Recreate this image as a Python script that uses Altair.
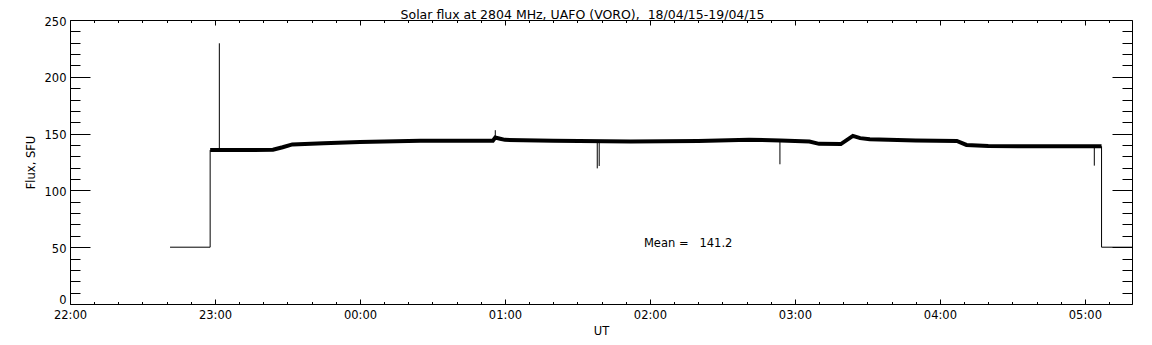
import altair as alt
import pandas as pd

# ---------------- data ----------------
# noisy main flux trace (UT times, SFU)
main_t = ["22:58:00", "23:10:00", "23:24:00", "23:28:00", "23:32:00", "23:45:00",
          "00:00:00", "00:25:00", "00:55:00", "00:56:00", "00:58:00", "01:00:00",
          "01:20:00", "01:52:00", "02:20:00", "02:41:00", "02:54:00", "03:06:00",
          "03:10:00", "03:19:00", "03:24:00", "03:27:00", "03:31:00", "03:50:00",
          "04:07:00", "04:11:00", "04:20:00", "05:06:54"]
main_v = [135.5, 135.5, 135.8, 138.0, 140.5, 141.5,
          142.5, 143.8, 143.8, 146.5, 145.5, 144.5,
          143.8, 143.0, 143.5, 144.5, 144.0, 143.0,
          141.0, 140.8, 148.0, 146.0, 145.0, 144.0,
          143.5, 140.0, 139.0, 138.8]

# calibration steps before / after the observation
step_seg = [0, 0, 0, 1, 1, 1]
step_t = ["22:41:24", "22:58:00", "22:58:00", "05:06:54", "05:06:54", "05:19:30"]
step_v = [50, 50, 135.5, 138.8, 50, 50]

# thin spikes
spike_t = ["23:01:48", "00:56:00", "01:38:12", "01:39:00", "02:53:48", "05:03:54"]
spike_base = [135.5, 145.0, 143.0, 143.0, 144.0, 138.8]
spike_tip = [229.5, 153.0, 119.4, 121.5, 123.0, 121.8]

# annotation
mean_t = ["01:57:30"]
mean_v = [52.5]
mean_text = ["Mean =\u00a0\u00a0\u00a0141.2"]

title_text = "Solar flux at 2804 MHz, UAFO (VORO),\u00a0\u00a018/04/15-19/04/15"
x_major = [0, 1, 2, 3, 4, 5, 6, 7]          # hours after 22:00 UT
x_minor = [i / 6 for i in range(44) if i % 6]
y_major = [0, 50, 100, 150, 200, 250]
y_minor = [v for v in range(0, 251, 10) if v % 50]
X_MAX = 7.325
W, H = 1062, 284
FONT = "DejaVu Sans"


def to_h(s):
    hh, mm, ss = (int(p) for p in s.split(":"))
    return (hh - 22) % 24 + mm / 60 + ss / 3600


main_df = pd.DataFrame({"h": [to_h(t) for t in main_t], "v": main_v})
step_df = pd.DataFrame({"h": [to_h(t) for t in step_t], "v": step_v,
                        "seg": step_seg, "i": list(range(len(step_t)))})
spike_df = pd.DataFrame({"h": [to_h(t) for t in spike_t], "v": spike_base, "v2": spike_tip})
mean_df = pd.DataFrame({"h": [to_h(t) for t in mean_t], "v": mean_v, "txt": mean_text})
dummy = pd.DataFrame({"h": [0.0], "v": [0.0]})

xs = alt.Scale(domain=[0, X_MAX], nice=False, zero=False)
ys = alt.Scale(domain=[0, 250], nice=False, zero=False)

label_expr = ("(((22 + datum.value) % 24) < 10 ? '0' : '') + "
              "((22 + datum.value) % 24) + ':00'")

x_lab = alt.Axis(orient="bottom", values=x_major, ticks=False, tickSize=0, domain=False,
                 grid=False, labelExpr=label_expr, labelFont=FONT, labelFontSize=11.5,
                 labelColor="black", labelPadding=5, labelFlush=False,
                 title="UT", titleFont=FONT, titleFontSize=11.5, titleFontWeight="normal",
                 titleColor="black", titlePadding=5)
y_lab = alt.Axis(orient="left", values=y_major, ticks=False, tickSize=0, domain=False,
                 grid=False, labelFont=FONT, labelFontSize=11.5, labelColor="black",
                 labelPadding=4, labelFlush=False,
                 labelOffset={"condition": {"test": "datum.value === 0", "value": -4},
                              "value": 2},
                 title="Flux, SFU", titleFont=FONT, titleFontSize=11.5,
                 titleFontWeight="normal", titleColor="black", titlePadding=8)
# chart title carried by a bare top axis, placed explicitly
x_title = alt.Axis(orient="top", ticks=False, labels=False, domain=False, grid=False,
                   title=title_text, titleFont=FONT, titleFontSize=12.5,
                   titleFontWeight="normal", titleColor="black",
                   titleX=W / 2 - 19, titleY=-2, titleAlign="center",
                   titleBaseline="alphabetic", titleAngle=0)


def tick_axis(orient, values, size, offset):
    return alt.Axis(orient=orient, values=values, tickSize=size, ticks=True, labels=False,
                    domain=False, grid=False, title=None, offset=offset,
                    tickColor="black", tickWidth=1)


main = alt.Chart(main_df).mark_line(color="black", strokeWidth=4).encode(
    x=alt.X("h:Q", scale=xs, axis=x_lab),
    y=alt.Y("v:Q", scale=ys, axis=y_lab),
)

steps = alt.Chart(step_df).mark_line(color="black", strokeWidth=1).encode(
    x=alt.X("h:Q", scale=xs, axis=None),
    y=alt.Y("v:Q", scale=ys, axis=None),
    detail="seg:N",
    order="i:Q",
)

spikes = alt.Chart(spike_df).mark_rule(color="black", strokeWidth=1).encode(
    x=alt.X("h:Q", scale=xs, axis=None),
    y=alt.Y("v:Q", scale=ys, axis=None),
    y2="v2:Q",
)

mean_lbl = alt.Chart(mean_df).mark_text(align="left", baseline="middle", font=FONT,
                                        fontSize=11.5, color="black").encode(
    x=alt.X("h:Q", scale=xs, axis=None),
    y=alt.Y("v:Q", scale=ys, axis=None),
    text="txt:N",
)

title_layer = alt.Chart(dummy).mark_point(opacity=0).encode(
    x=alt.X("h:Q", scale=xs, axis=x_title),
    y=alt.Y("v:Q", scale=ys, axis=None),
)


def ticks_layer(xo, xv, xsz, yo, yv, ysz, off_x, off_y):
    return alt.Chart(dummy).mark_point(opacity=0).encode(
        x=alt.X("h:Q", scale=xs, axis=tick_axis(xo, xv, xsz, off_x)),
        y=alt.Y("v:Q", scale=ys, axis=tick_axis(yo, yv, ysz, off_y)),
    )


# inward ticks on all four sides
t1 = ticks_layer("top", x_major, 5, "right", y_major, 20, -H, -W)      # bottom / left majors
t2 = ticks_layer("top", x_minor, 2.5, "right", y_minor, 10, -H, -W)    # bottom / left minors
t3 = ticks_layer("bottom", x_major, 5, "left", y_major, 20, -H, -W)    # top / right majors
t4 = ticks_layer("bottom", x_minor, 2.5, "left", y_minor, 10, -H, -W)  # top / right minors

chart = alt.layer(main, steps, spikes, mean_lbl, title_layer, t1, t2, t3, t4).resolve_axis(
    x="independent", y="independent"
).properties(
    width=W, height=H,
    autosize="none",
    padding={"left": 62, "top": 12, "right": 12, "bottom": 33},
    background="white",
).configure_view(stroke="black", strokeWidth=1)

chart.save("out.html", embed_options={"renderer": "svg", "actions": False})
